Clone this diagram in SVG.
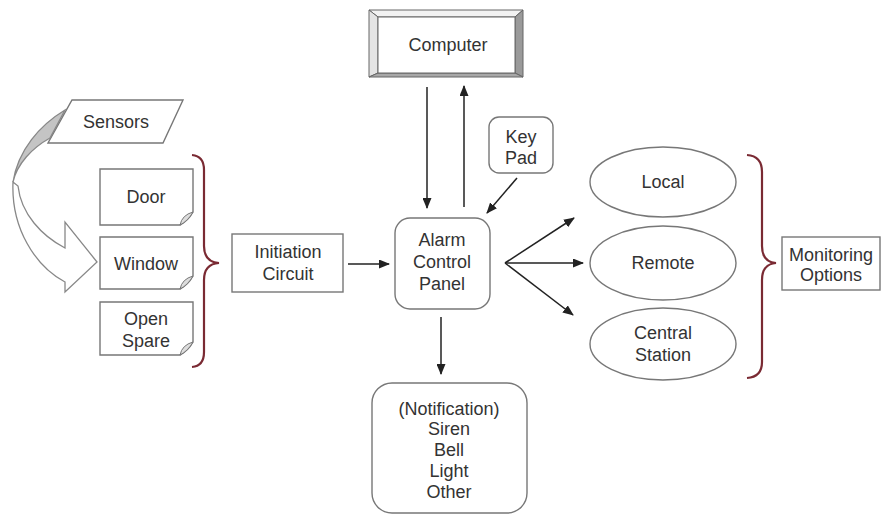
<svg xmlns="http://www.w3.org/2000/svg" width="884" height="516" viewBox="0 0 884 516">
<defs>
<marker id="ah" markerUnits="userSpaceOnUse" markerWidth="11" markerHeight="9" refX="10" refY="4.5" orient="auto">
<path d="M0,0 L11,4.5 L0,9 z" fill="#222"/>
</marker>
<style>
text{font-family:"Liberation Sans",Arial,sans-serif;font-size:18px;fill:#333;text-anchor:middle}
.box{fill:#fff;stroke:#777;stroke-width:1.4}
.brace{fill:none;stroke:#7a2a33;stroke-width:2.2}
.con{stroke:#222;stroke-width:1.5;fill:none;marker-end:url(#ah)}
.fold{fill:#ddd;stroke:#777;stroke-width:1}
</style>
</defs>
<rect width="884" height="516" fill="#fff"/>

<g id="computer">
<polygon points="369,10 523,10 515,17 378,17" fill="#f2f2f2" stroke="#666"/>
<polygon points="369,10 378,17 378,73 369,77" fill="#e4e4e4" stroke="#666"/>
<polygon points="523,10 523,77 515,73 515,17" fill="#9a9a9a" stroke="#666"/>
<polygon points="369,77 523,77 515,73 378,73" fill="#a8a8a8" stroke="#666"/>
<rect x="378" y="17" width="137" height="56" fill="#fff" stroke="#666"/>
<text x="448" y="51">Computer</text>
</g>

<g id="sensors">
<polygon points="72,100 183,100 163,143 48,143" class="box"/>
<text x="116" y="128">Sensors</text>
</g>

<g id="sensor-arrow">
<path d="M65,110 C40,125 18,150 13,182 C17,164 32,148 50,138 Z" fill="#c4c4c4" stroke="#888" stroke-width="1.3"/>
<path d="M13,182 C11,228 35,266 65,282 L65,292 L97,262 L65,222 L65,248 C42,236 21,214 18,186 Z" fill="#fff" stroke="#888" stroke-width="1.3"/>
</g>

<g id="door">
<path d="M100,169 H193 V212 Q188,221 180,225 H100 Z" class="box"/>
<path d="M180,225 Q182,215 193,212 Q188,221 180,225 Z" class="fold"/>
<text x="146" y="203">Door</text>
</g>
<g id="window">
<path d="M100,237 H193 V276 Q188,285 180,289 H100 Z" class="box"/>
<path d="M180,289 Q182,279 193,276 Q188,285 180,289 Z" class="fold"/>
<text x="146" y="270">Window</text>
</g>
<g id="open-spare">
<path d="M100,302 H193 V342 Q188,351 180,355 H100 Z" class="box"/>
<path d="M180,355 Q182,345 193,342 Q188,351 180,355 Z" class="fold"/>
<text x="146" y="325">Open</text>
<text x="146" y="347">Spare</text>
</g>

<g id="sensor-brace">
<path d="M192,155 Q204,156 204,170 V246 Q204,262 219,263 Q204,264 204,280 V352 Q204,366 192,367" class="brace"/>
</g>

<g id="initiation">
<rect x="232" y="234" width="111" height="58" class="box"/>
<text x="288" y="258">Initiation</text>
<text x="288" y="280">Circuit</text>
</g>

<g id="acp">
<rect x="395" y="218" width="95" height="91" rx="15" class="box"/>
<text x="442" y="246">Alarm</text>
<text x="442" y="268">Control</text>
<text x="442" y="290">Panel</text>
</g>

<g id="keypad">
<rect x="489" y="117" width="64" height="56" rx="10" class="box"/>
<text x="521" y="143">Key</text>
<text x="521" y="164">Pad</text>
</g>

<g id="local">
<ellipse cx="663" cy="182" rx="73" ry="35" class="box"/>
<text x="663" y="188">Local</text>
</g>
<g id="remote">
<ellipse cx="663" cy="263" rx="73" ry="37" class="box"/>
<text x="663" y="269">Remote</text>
</g>
<g id="central">
<ellipse cx="663" cy="344" rx="73" ry="36" class="box"/>
<text x="663" y="339">Central</text>
<text x="663" y="361">Station</text>
</g>

<g id="monitor-brace">
<path d="M747,155 Q762,156 762,172 V246 Q762,262 776,263 Q762,264 762,280 V362 Q762,377 747,378" class="brace"/>
</g>

<g id="monitoring">
<rect x="782" y="237" width="98" height="53" class="box"/>
<text x="831" y="261">Monitoring</text>
<text x="831" y="281">Options</text>
</g>

<g id="notification">
<rect x="372" y="383" width="155" height="130" rx="20" class="box"/>
<text x="449" y="415">(Notification)</text>
<text x="449" y="435">Siren</text>
<text x="449" y="456">Bell</text>
<text x="449" y="477">Light</text>
<text x="449" y="498">Other</text>
</g>

<g id="connectors">
<line x1="427" y1="87" x2="427" y2="208" class="con"/>
<line x1="464" y1="207" x2="464" y2="86" class="con"/>
<line x1="348" y1="264" x2="389" y2="264" class="con"/>
<line x1="517" y1="178" x2="487" y2="213" class="con"/>
<line x1="505" y1="263" x2="574" y2="218" class="con"/>
<line x1="505" y1="263" x2="583" y2="263" class="con"/>
<line x1="505" y1="263" x2="573" y2="315" class="con"/>
<line x1="441" y1="317" x2="441" y2="374" class="con"/>
</g>
</svg>
